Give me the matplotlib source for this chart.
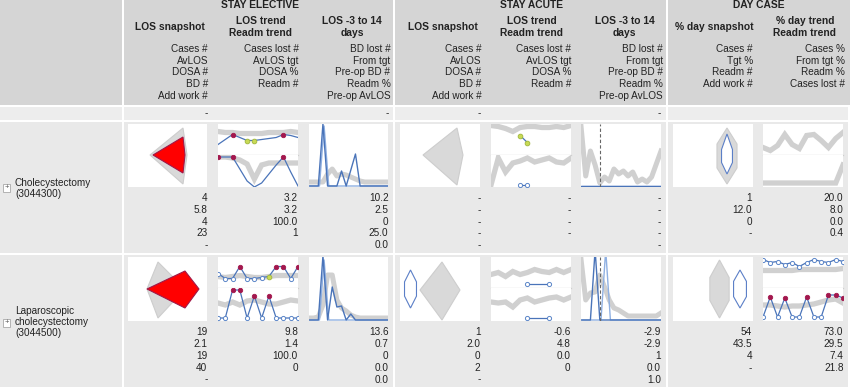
import numpy as np
import matplotlib
matplotlib.use("Agg")
import matplotlib.pyplot as plt
from matplotlib.patches import Rectangle, Polygon

plt.rcParams["font.family"] = ["Liberation Sans", "DejaVu Sans"]

# ------------------------------------------------------------------ data
group_titles = ["STAY ELECTIVE", "STAY ACUTE", "DAY CASE"]
column_titles = ["LOS snapshot", "LOS trend\nReadm trend", "LOS -3 to 14\ndays",
                 "LOS snapshot", "LOS trend\nReadm trend", "LOS -3 to 14\ndays",
                 "% day snapshot", "% day trend\nReadm trend"]
snapshot_metrics = ["Cases #", "AvLOS", "DOSA #", "BD #", "Add work #"]
trend_metrics = ["Cases lost #", "AvLOS tgt", "DOSA %", "Readm #"]
los_metrics = ["BD lost #", "From tgt", "Pre-op BD #", "Readm %", "Pre-op AvLOS"]
day_snapshot_metrics = ["Cases #", "Tgt %", "Readm #", "Add work #"]
day_trend_metrics = ["Cases %", "From tgt %", "Readm %", "Cases lost #"]
column_metrics = [snapshot_metrics, trend_metrics, los_metrics,
                  snapshot_metrics, trend_metrics, los_metrics,
                  day_snapshot_metrics, day_trend_metrics]
summary_values = ["-", "", "-", "-", "", "-", "", ""]

procedures = [["Cholecystectomy", "(3044300)"],
              ["Laparoscopic", "cholecystectomy", "(3044500)"]]

chole_values = [["4", "5.8", "4", "23", "-"], ["3.2", "3.2", "100.0", "1"],
                ["10.2", "2.5", "0", "25.0", "0.0"],
                ["-", "-", "-", "-", "-"], ["-", "-", "-", "-"],
                ["-", "-", "-", "-", "-"],
                ["1", "12.0", "0", "-"], ["20.0", "8.0", "0.0", "0.4"]]
lapchole_values = [["19", "2.1", "19", "40", "-"], ["9.8", "1.4", "100.0", "0"],
                   ["13.6", "0.7", "0", "0.0", "0.0"],
                   ["1", "2.0", "0", "2", "-"], ["-0.6", "4.8", "0.0", "0"],
                   ["-2.9", "-2.9", "1", "0.0", "1.0"],
                   ["54", "43.5", "4", "-"], ["73.0", "29.5", "7.4", "21.8"]]

# snapshot glyphs: radar-style values on fixed spokes (degrees)
kite_spokes = [180, 90, 0, -90]
hex_spokes = [90, 50, -50, -90, -130, 130]

chole_el_snap_bench_centre = [55, 31]
chole_el_snap_bench = [33, 27, 4, 29]
chole_el_snap_centre = [55, 31]
chole_el_snap = [30, 18, 2, 18]

chole_ac_snap_bench_centre = [57, 31]
chole_ac_snap_bench = [34, 27, 6, 30]

chole_dc_snap_bench_centre = [54, 32]
chole_dc_snap_bench = [28, 15.6, 15.6, 28, 15.6, 15.6]
chole_dc_snap_centre = [54, 32]
chole_dc_snap = [22, 8.5, 8.5, 18, 8.5, 8.5]

lap_el_snap_bench_centre = [30, 32]
lap_el_snap_bench = [11, 27, 27, 29]
lap_el_snap_centre = [57, 32]
lap_el_snap = [38, 18, 14, 19]

lap_ac_snap_bench_centre = [42, 33]
lap_ac_snap_bench = [22, 28, 18, 30]
lap_ac_snap_centre = [10.5, 32]
lap_ac_snap = [19, 9.3, 9.3, 19, 9.3, 9.3]

lap_dc_snap_bench_centre = [46.5, 32]
lap_dc_snap_bench = [29, 15, 15, 29, 15, 15]
lap_dc_snap_centre = [67, 32]
lap_dc_snap = [19, 10, 10, 19, 10, 10]

# trend sparklines (12 periods); flags: h=high dot, l=low dot, o=open, .=none
chole_el_los_trend_bench = [23, 22, 22, 21, 21, 21, 21, 22, 22, 22, 23, 22]
chole_el_los_trend = [10, 15, 20, 17, 14, 14, 15, 16, 17, 20, 19, 17]
chole_el_los_trend_flags = "..h.ll...h.."
chole_el_readm_trend_bench = [30, 30, 29, 27, 23, 8, 22, 24, 24, 24, 24, 24]
chole_el_readm_trend = [30, 30, 30, 18, 6, 0, 4, 13, 22, 30, 15, 1]
chole_el_readm_trend_flags = "h.h......h.."

chole_ac_los_trend_bench = [29, 28, 26, 23, 27, 28, 28, 27, 27, 28, 27, 29]
chole_ac_los_trend = [None, None, None, None, 19, 12, None, None, None, None, None, None]
chole_ac_los_trend_flags = "....ll......"
chole_ac_readm_trend_bench = [2, 29, 15, 24, 26, 29, 25, 27, 29, 25, 24, 29]
chole_ac_readm_trend = [None, None, None, None, 2, 2, None, None, None, None, None, None]
chole_ac_readm_trend_flags = "....oo......"

chole_dc_pct_trend_bench = [7, 4, 9, 20, 10, 6, 19, 20, 14, 7, 16, 22]
chole_dc_pct_trend = [None] * 12
chole_dc_pct_trend_flags = "............"
chole_dc_readm_trend_bench = [4, 4, 4, 4, 4, 4, 4, 4, 4, 4, 4, 22]
chole_dc_readm_trend = [None] * 12
chole_dc_readm_trend_flags = "............"

lap_el_los_trend_bench = [11, 10, 11, 12, 11, 10, 10, 11, 12, 12, 12, 12]
lap_el_los_trend = [14, 9, 9, 21, 9, 9, 10, 11, 21, 21, 9, 21]
lap_el_los_trend_flags = "ooohooolhhoh"
lap_el_readm_trend_bench = [18, 16, 19, 16, 20, 21, 19, 17, 17, 19, 21, 20]
lap_el_readm_trend = [3, 3, 31, 31, 3, 25, 3, 25, 3, 3, 3, 3]
lap_el_readm_trend_flags = "oohhohohoooo"

lap_ac_los_trend_bench = [13, 15, 11, 16, 13, 15, 18, 16, 15, 18, 15, 18]
lap_ac_los_trend = [None, None, None, None, None, 4, 4, 4, 4, None, None, None]
lap_ac_los_trend_flags = ".....o..o..."
lap_ac_readm_trend_bench = [19, 18, 19, 14, 21, 23, 19, 21, 23, 24, 21, 24]
lap_ac_readm_trend = [None, None, None, None, None, 3, 3, 3, 3, None, None, None]
lap_ac_readm_trend_flags = ".....o..o..."

lap_dc_pct_trend_bench = [17, 17, 17, 17, 17, 18, 18, 18, 18, 18, 18, 19]
lap_dc_pct_trend = [28, 25, 26, 23, 25, 21, 25, 28, 26, 25, 28, 26]
lap_dc_pct_trend_flags = "oooooooooooo"
lap_dc_readm_trend_bench = [16, 16, 15, 14, 15, 15, 16, 17, 19, 21, 22, 18]
lap_dc_readm_trend = [4, 24, 4, 23, 4, 4, 24, 4, 4, 26, 26, 23]
lap_dc_readm_trend_flags = "ohohoohoohhh"

# LOS distribution, days -3 .. 14
los_days = list(range(-3, 15))
chole_el_los_bench = [4, 4, 4, 4, 12, 17, 10, 12, 11, 9, 7, 5, 4, 4, 4, 4, 4, 4]
chole_el_los = [0, 0, 0, 62, 0, 0, 0, 15, 0, 16, 32, 0, 0, 0, 0, 0, 0, 0]
chole_el_los_2 = [0, 0, 0, 60, 0, 0, 0, 0, 0, 0, 0, 0, 0, 0, 0, 0, 0, 0]
chole_ac_los_bench = [60, 10, 35, 21, 3, 9, 5, 17, 12, 15, 10, 14, 4, 7, 4, 9, 22, 35]
chole_ac_los = [0] * 18
chole_ac_los_2 = [0] * 18
lap_el_los_bench = [2, 2, 3, 15, 45, 45, 20, 12, 9, 5, 3, 2, 2, 2, 2, 2, 2, 2]
lap_el_los = [0, 0, 0, 64, 0, 33, 13, 14, 0, 6, 0, 0, 0, 0, 0, 0, 0, 0]
lap_el_los_2 = [0, 0, 0, 60, 0, 0, 0, 0, 0, 0, 0, 0, 0, 0, 0, 0, 0, 0]
lap_ac_los_bench = [61, 20, 27, 28, 45, 33, 20, 12, 10, 7, 4, 4, 4, 4, 4, 4, 4, 7]
lap_ac_los = [0, 0, 0, 70, 0, 0, 0, 0, 0, 0, 0, 0, 0, 0, 0, 0, 0, 0]
lap_ac_los_2 = [0, 0, 0, 0, 0, 70, 0, 0, 0, 0, 0, 0, 0, 0, 0, 0, 0, 0]
acute_marker_day = 1

# ------------------------------------------------------------------ style
W, H = 850, 387
HEADER_BG = "#d5d5d5"
ROW_BG = "#e9e9e9"
SUM_BG = "#ededed"
TXT = "#222222"
GREY_LINE = "#d0d0d0"
BLUE = "#4a74b9"
BLUE_LIGHT = "#8fb0e2"
HIGH = "#a3174d"
LOW = "#c8da55"

fig = plt.figure(figsize=(W / 100, H / 100), dpi=100)
fig.patch.set_facecolor("white")
bg = fig.add_axes([0, 0, 1, 1])
bg.set_xlim(0, W)
bg.set_ylim(H, 0)
bg.set_axis_off()

bg.add_patch(Rectangle((0, 0), W, 105, fc=HEADER_BG, ec="none"))
bg.add_patch(Rectangle((0, 107), W - 2, 12.5, fc=SUM_BG, ec="none"))
bg.add_patch(Rectangle((0, 121.5), W - 2, 131, fc=ROW_BG, ec="none"))
bg.add_patch(Rectangle((0, 254.5), W - 2, 133, fc=ROW_BG, ec="none"))
for xs in (122, 393.5, 666):
    bg.add_patch(Rectangle((xs, 0), 2, H, fc="white", ec="none"))


def txt(x, y, s, size=7.2, weight="normal", ha="right"):
    bg.text(x, y + 3.6, s, ha=ha, va="baseline", fontsize=size,
            fontweight=weight, color=TXT)


group_x = [260, 532, 759]
for gx, g in zip(group_x, group_titles):
    txt(gx, 4.0, g, size=7.4, weight="bold", ha="center")

title_x = [169.5, 261, 352, 442.5, 532, 624.5, 714.7, 805]
for tx, t in zip(title_x, column_titles):
    lines = t.split("\n")
    ys = [26] if len(lines) == 1 else [20, 32.3]
    for ly, ln in zip(ys, lines):
        txt(tx, ly, ln, size=7.4, weight="bold", ha="center")

header_right = [208, 299, 390.5, 481.5, 571.5, 663, 753, 845]
metric_y = [48.3, 60, 71.7, 83.3, 95]
for hx, mets in zip(header_right, column_metrics):
    for my, m in zip(metric_y, mets):
        txt(hx, my, m)

value_right = [207.5, 298, 388.5, 480.5, 570.5, 661, 752, 843.5]
for vx, s in zip(value_right, summary_values):
    if s:
        txt(vx, 112.7, s)

row_value_y = [[197.7, 209.4, 221.1, 232.8, 244.5],
               [331.8, 343.6, 355.4, 367.2, 379.0]]
for rvals, ys in zip([chole_values, lapchole_values], row_value_y):
    for vx, col in zip(value_right, rvals):
        for vy, s in zip(ys, col):
            txt(vx, vy, s)

label_y0 = [182.5, 310.5]
plus_y = [183.5, 318.5]
for lines, y0, py in zip(procedures, label_y0, plus_y):
    for k, ln in enumerate(lines):
        txt(15, y0 + 11 * k, ln, ha="left")
    bg.add_patch(Rectangle((3.5, py), 7, 8, fc="white", ec="#a8a8a8", lw=0.6))
    bg.text(7, py + 4, "+", ha="center", va="center", fontsize=5.5, color="#555555")


# ------------------------------------------------------------------ sparklines
def px_axes(x0, y0, x1, y1):
    ax = fig.add_axes([x0 / W, 1 - y1 / H, (x1 - x0) / W, (y1 - y0) / H])
    ax.set_facecolor("white")
    for s in ax.spines.values():
        s.set_visible(False)
    ax.set_xticks([])
    ax.set_yticks([])
    return ax


def radar(centre, spokes, radii):
    a = np.deg2rad(spokes)
    r = np.asarray(radii, float)
    return np.column_stack([centre[0] + r * np.cos(a), centre[1] - r * np.sin(a)])


def draw_snapshot(box, shapes):
    x0, y0, x1, y1 = box
    ax = px_axes(x0, y0, x1, y1)
    ax.set_xlim(0, x1 - x0)
    ax.set_ylim(y1 - y0, 0)
    for centre, spokes, radii, fc, ec in shapes:
        ax.add_patch(Polygon(radar(centre, spokes, radii), closed=True,
                             fc=fc, ec=ec, lw=0.8, joinstyle="miter"))


def flag_markers(ax, xs, vals, flags):
    for x, v, f in zip(xs, vals, flags):
        if f == "." or np.isnan(v):
            continue
        if f == "h":
            ax.plot(x, v, "o", ms=3.2, mfc=HIGH, mec=HIGH, mew=0.6)
        elif f == "l":
            ax.plot(x, v, "o", ms=3.4, mfc=LOW, mec="#9fb63a", mew=0.6)
        else:
            ax.plot(x, v, "o", ms=3.0, mfc="white", mec="#5b85c8", mew=0.7)


def draw_trend(box, top, bottom):
    x0, y0, x1, y1 = box
    mid = y0 + 30.5
    for (ya, yb), (bench, vals, flags) in zip([(y0, mid), (mid, y1)], [top, bottom]):
        ax = px_axes(x0, ya, x1, yb)
        n = len(bench)
        xs = np.arange(n)
        ax.set_xlim(0, n - 1)
        ax.set_ylim(0, yb - ya)
        ax.plot(xs, bench, color=GREY_LINE, lw=3.8, solid_joinstyle="miter")
        v = np.array([np.nan if a is None else a for a in vals], float)
        ax.plot(xs, v, color=BLUE, lw=0.9)
        flag_markers(ax, xs, v, flags)
        if ya == y0:
            ax.axhline(0, color="#cfcfcf", lw=0.9, clip_on=False)


def draw_los(box, bench, vals, vals2, marker_day=None):
    x0, y0, x1, y1 = box
    ax = px_axes(x0, y0, x1, y1)
    ax.set_xlim(los_days[0], los_days[-1])
    ax.set_ylim(-1, y1 - y0 - 1)
    ax.plot(los_days, bench, color=GREY_LINE, lw=3.6)
    ax.plot(np.array(los_days) + 0.25, vals2, color=BLUE_LIGHT, lw=1.0)
    ax.plot(los_days, vals, color=BLUE, lw=1.0)
    if marker_day is not None:
        ax.axvline(marker_day, color="#666666", lw=0.8, ls=(0, (3, 2)))


rows_y = [(124, 187), (257, 321)]
snap_x = [(128, 207), (400, 480), (673, 753)]
trend_x = [(218, 298), (491, 571), (763, 843)]
los_x = [(309, 388), (581, 661)]

GFC, GEC = "#d9d9d9", "#cdcdcd"
snapshots = [
    [[(chole_el_snap_bench_centre, kite_spokes, chole_el_snap_bench, GFC, GEC),
      (chole_el_snap_centre, kite_spokes, chole_el_snap, "#ff0000", "#a01848")],
     [(chole_ac_snap_bench_centre, kite_spokes, chole_ac_snap_bench, GFC, GEC)],
     [(chole_dc_snap_bench_centre, hex_spokes, chole_dc_snap_bench, GFC, GEC),
      (chole_dc_snap_centre, hex_spokes, chole_dc_snap, "white", "#5b7fc7")]],
    [[(lap_el_snap_bench_centre, kite_spokes, lap_el_snap_bench, GFC, GEC),
      (lap_el_snap_centre, kite_spokes, lap_el_snap, "#ff0000", "#a01848")],
     [(lap_ac_snap_bench_centre, kite_spokes, lap_ac_snap_bench, GFC, GEC),
      (lap_ac_snap_centre, hex_spokes, lap_ac_snap, "white", "#5b7fc7")],
     [(lap_dc_snap_bench_centre, hex_spokes, lap_dc_snap_bench, GFC, GEC),
      (lap_dc_snap_centre, hex_spokes, lap_dc_snap, "white", "#5b7fc7")]],
]
trends = [
    [((chole_el_los_trend_bench, chole_el_los_trend, chole_el_los_trend_flags),
      (chole_el_readm_trend_bench, chole_el_readm_trend, chole_el_readm_trend_flags)),
     ((chole_ac_los_trend_bench, chole_ac_los_trend, chole_ac_los_trend_flags),
      (chole_ac_readm_trend_bench, chole_ac_readm_trend, chole_ac_readm_trend_flags)),
     ((chole_dc_pct_trend_bench, chole_dc_pct_trend, chole_dc_pct_trend_flags),
      (chole_dc_readm_trend_bench, chole_dc_readm_trend, chole_dc_readm_trend_flags))],
    [((lap_el_los_trend_bench, lap_el_los_trend, lap_el_los_trend_flags),
      (lap_el_readm_trend_bench, lap_el_readm_trend, lap_el_readm_trend_flags)),
     ((lap_ac_los_trend_bench, lap_ac_los_trend, lap_ac_los_trend_flags),
      (lap_ac_readm_trend_bench, lap_ac_readm_trend, lap_ac_readm_trend_flags)),
     ((lap_dc_pct_trend_bench, lap_dc_pct_trend, lap_dc_pct_trend_flags),
      (lap_dc_readm_trend_bench, lap_dc_readm_trend, lap_dc_readm_trend_flags))],
]
los_charts = [
    [(chole_el_los_bench, chole_el_los, chole_el_los_2, None),
     (chole_ac_los_bench, chole_ac_los, chole_ac_los_2, acute_marker_day)],
    [(lap_el_los_bench, lap_el_los, lap_el_los_2, None),
     (lap_ac_los_bench, lap_ac_los, lap_ac_los_2, acute_marker_day)],
]

for r, (ya, yb) in enumerate(rows_y):
    for (xa, xb), shapes in zip(snap_x, snapshots[r]):
        draw_snapshot((xa, ya, xb, yb), shapes)
    for (xa, xb), (top, bottom) in zip(trend_x, trends[r]):
        draw_trend((xa, ya, xb, yb), top, bottom)
    for (xa, xb), (bench, vals, vals2, md) in zip(los_x, los_charts[r]):
        draw_los((xa, ya, xb, yb), bench, vals, vals2, md)

fig.savefig("out.png", dpi=100, facecolor="white")
